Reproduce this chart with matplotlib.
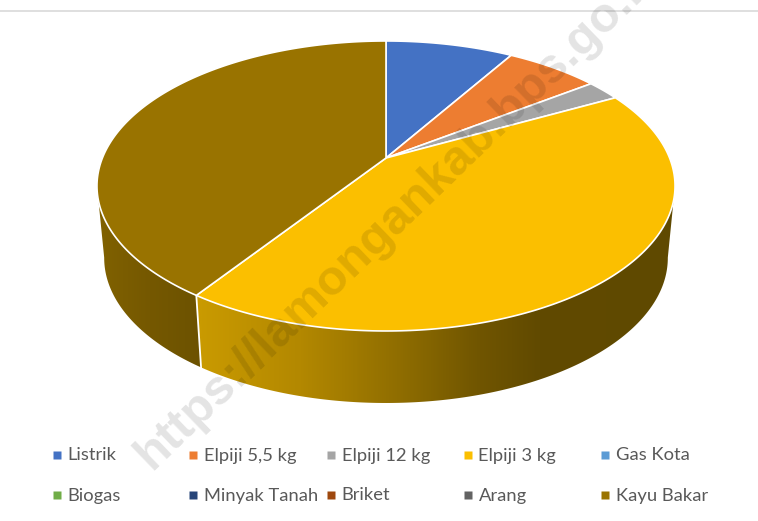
import matplotlib
matplotlib.use("Agg")
import matplotlib.pyplot as plt
from matplotlib.colors import LinearSegmentedColormap
from matplotlib.patches import Polygon
import numpy as np

labels = ["Listrik", "Elpiji 5,5 kg", "Elpiji 12 kg", "Elpiji 3 kg", "Gas Kota",
          "Biogas", "Minyak Tanah", "Briket", "Arang", "Kayu Bakar"]
values = [8.6, 6.3, 2.3, 42.3, 0.0, 0.0, 0.0, 0.0, 0.0, 40.5]
colors = ["#4472C4", "#ED7D31", "#A5A5A5", "#FBBF00", "#5B9BD5",
          "#70AD47", "#264478", "#9E480E", "#636363", "#997300"]

fig = plt.figure(figsize=(7.58, 5.21), dpi=100)
ax = fig.add_axes([0, 0, 1, 1])
ax.set_xlim(0, 758)
ax.set_ylim(521, 0)
ax.axis("off")

# tilted disc, apex is not the ellipse centre because of the perspective
cx, cy = 386, 158
a, b, k = 283.6, 139.6, 0.193
depth, shrink = 72, 0.975


def top(theta):
    u, v = np.sin(theta), -np.cos(theta)
    w = 1 - k * v
    return cx + a * u / w, cy + b * v / w


def bottom(theta):
    x, y = top(theta)
    return cx + (x - cx) * shrink, y + depth


def wall(start, end, xs, cols):
    th = np.radians(np.linspace(start, end, 300))
    x1, y1 = top(th)
    x2, y2 = bottom(th)
    outline = np.r_[np.c_[x1, y1], np.c_[x2, y2][::-1]]
    clip = Polygon(outline, closed=True, transform=ax.transData, facecolor="none", edgecolor="none")
    ax.add_patch(clip)
    x0, x3 = outline[:, 0].min(), outline[:, 0].max()
    stops = [(x - xs[0]) / (xs[-1] - xs[0]) for x in xs]
    cmap = LinearSegmentedColormap.from_list("wall", list(zip(stops, cols)))
    grad = np.clip((np.linspace(x0, x3, 512) - xs[0]) / (xs[-1] - xs[0]), 0, 1)
    im = ax.imshow(grad[None, :], cmap=cmap, vmin=0, vmax=1, aspect="auto", zorder=2,
                   extent=[x0, x3, outline[:, 1].max(), outline[:, 1].min()])
    im.set_clip_path(clip)


fractions = np.cumsum([0] + values) / sum(values) * 360

# side walls, gold part is lit from the left
split = fractions[4]
wall(split, 259, [100, 150, 201], ["#806100", "#755800", "#6C5200"])
wall(101, split, [201, 300, 400, 480, 540, 675], ["#C99A00", "#B38800", "#8F6D00", "#705500", "#614A00", "#5F4900"])
ax.set_xlim(0, 758)
ax.set_ylim(521, 0)

th = np.radians(split)
xa, ya = top(th)
xb, yb = bottom(th)
ax.plot([xa, xb], [ya, yb], color="white", lw=1.3, zorder=3)

for i in range(len(values)):
    if values[i] == 0:
        continue
    th = np.radians(np.linspace(fractions[i], fractions[i + 1], 200))
    x, y = top(th)
    ax.fill(np.r_[cx, x], np.r_[cy, y], facecolor=colors[i], edgecolor="white", lw=1.2, zorder=4, joinstyle="round")

# separator line above the chart
ax.plot([0, 758], [10.5, 10.5], color="#D9D9D9", lw=1.2, zorder=1)

xs = [57, 193, 331, 468, 605]
for i in range(len(labels)):
    lx = xs[i % 5]
    ly = 455 if i < 5 else 495
    ax.plot(lx, ly, marker="s", ms=5.6, mec="none", color=colors[i], zorder=5)
    ax.text(lx + 10.5, ly + 0.5, labels[i], fontsize=13.2, family="Lato", color="#595959", va="center", zorder=5)

ax.text(152, 471, "https://lamongankab.bps.go.id", rotation=44, rotation_mode="anchor",
        fontsize=35.5, family="Liberation Sans", weight="bold", color="black", alpha=0.11,
        ha="left", va="baseline", zorder=6, clip_on=False)

fig.savefig("out.png", dpi=100)
